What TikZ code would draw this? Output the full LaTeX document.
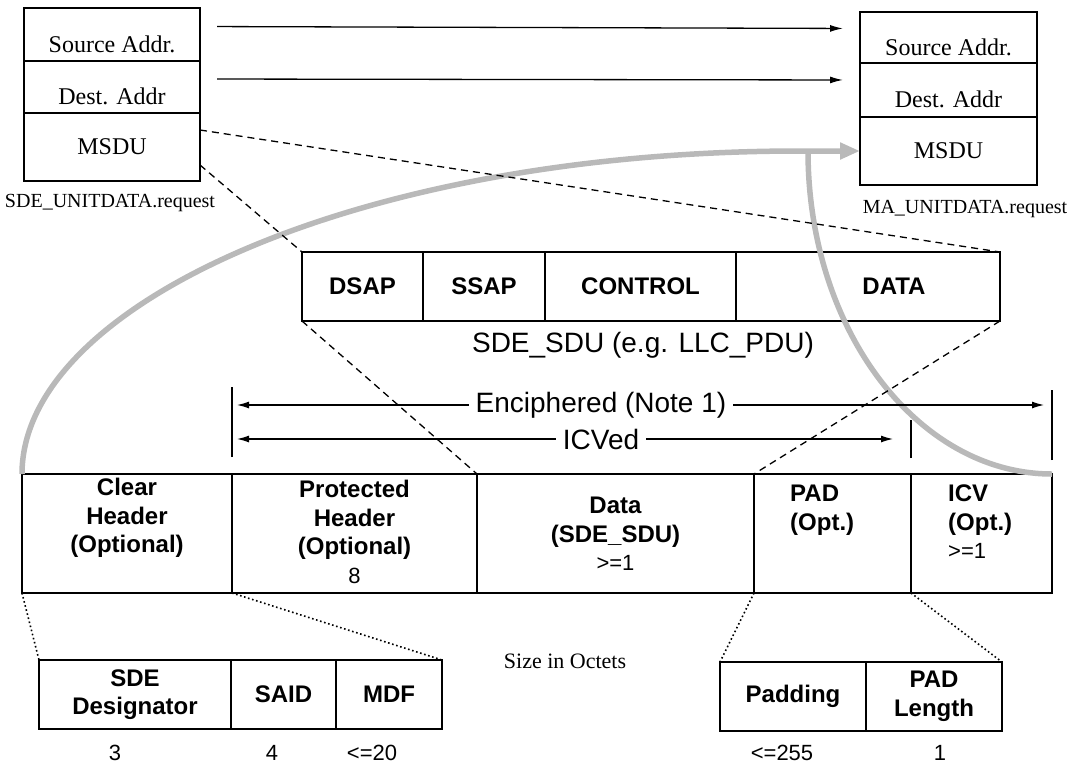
\documentclass[tikz,border=0pt]{standalone}
\usepackage{fontspec}
\setmainfont{Liberation Serif}
\setsansfont{Liberation Sans}
\usetikzlibrary{positioning,arrows.meta}

\tikzset{
  field/.style={draw, line width=1.5pt, inner sep=0pt, outer sep=0pt, align=center,
    font=\sffamily\bfseries\fontsize{24}{28.5}\selectfont},
  addr/.style={draw, line width=1.5pt, inner sep=0pt, outer sep=0pt, minimum width=176pt,
    font=\fontsize{24}{28}\selectfont},
  lowaddr/.style={addr, text height=35pt, text depth=0pt},
  fieldtxt/.style={inner sep=0pt, font=\sffamily\bfseries\fontsize{24}{28.5}\selectfont},
  octets/.style={font=\sffamily\fontsize{22}{26}\selectfont},
  caption/.style={font=\fontsize{20}{24}\selectfont},
  spantxt/.style={font=\sffamily\fontsize{28}{30}\selectfont, inner sep=7pt},
  passarrow/.style={line width=1.3pt, -{Latex[length=13pt,width=7pt]}},
  spanarrow/.style={line width=1.2pt, -{Latex[length=12pt,width=7pt]}},
  spanbar/.style={line width=1.2pt},
  zoomline/.style={line width=1.3pt, dash pattern=on 7pt off 5pt},
  subline/.style={line width=1.6pt, dash pattern=on 1.6pt off 2.6pt},
  bigflow/.style={draw=gray!55, line width=5.5pt},
}
\newcommand{\num}[1]{{\mdseries\fontsize{22}{28.5}\selectfont #1}}

\begin{document}
\begin{tikzpicture}[x=1pt, y=-1pt]
  \useasboundingbox (0,0) rectangle (1073,766);

  % SDE_UNITDATA.request
  \node[lowaddr, minimum height=53pt] (srcL) at (112,34.5) {Source Addr.};
  \node[lowaddr, minimum height=52pt, below=0pt of srcL] (dstL) {Dest. Addr};
  \node[addr, minimum height=68pt, below=0pt of dstL] (msduL) {MSDU};
  \node[caption] (reqL) at (110,203) {SDE\_UNITDATA.request};

  % MA_UNITDATA.request
  \node[lowaddr, minimum width=177pt, minimum height=51pt] (srcR) at (948.5,37.5) {Source Addr.};
  \node[lowaddr, minimum width=177pt, minimum height=54pt, below=0pt of srcR] (dstR) {Dest. Addr};
  \node[addr, minimum width=177pt, minimum height=68pt, below=0pt of dstR] (msduR) {MSDU};
  \node[caption] (reqR) at (965,209) {MA\_UNITDATA.request};

  % SDE_SDU
  \node[field, minimum width=121pt, minimum height=69pt] (dsap) at (362.5,286.5) {DSAP};
  \node[field, minimum width=122pt, minimum height=69pt, right=0pt of dsap] (ssap) {SSAP};
  \node[field, minimum width=191pt, minimum height=69pt, right=0pt of ssap] (control) {CONTROL};
  \node[field, minimum width=264pt, minimum height=69pt, right=0pt of control] (sdudata) {};
  \node[fieldtxt, xshift=26pt] (sdudatatxt) at (sdudata) {DATA};
  \node[spantxt] (sdulbl) at (643,345) {SDE\_SDU (e.g. LLC\_PDU)};

  % protected frame
  \node[field, minimum width=210pt, minimum height=119pt] (clear) at (127,533.5) {};
  \node[field, minimum width=245pt, minimum height=119pt, right=0pt of clear] (prot) {};
  \node[field, minimum width=277pt, minimum height=119pt, right=0pt of prot] (data) {};
  \node[field, minimum width=157pt, minimum height=119pt, right=0pt of data] (pad) {};
  \node[field, minimum width=141pt, minimum height=119pt, right=0pt of pad] (icv) {};

  \node[fieldtxt, align=center, below=4pt of clear.north] (cleartxt) {Clear\\Header\\(Optional)};
  \node[fieldtxt, align=center, below=6pt of prot.north] (prottxt) {Protected\\Header\\(Optional)\\\num{8}};
  \node[fieldtxt, align=center, below=23pt of data.north] (datatxt) {Data\\(SDE\_SDU)\\\num{>=1}};
  \node[fieldtxt, align=left, below right=11pt and 36pt of pad.north west] (padtxt) {PAD\\(Opt.)};
  \node[fieldtxt, align=left, below right=11pt and 37pt of icv.north west] (icvtxt) {ICV\\(Opt.)\\\num{>=1}};

  % sub fields
  \node[field, minimum width=192pt, minimum height=69pt] (sdedes) at (135,694.5) {SDE\\Designator};
  \node[field, minimum width=105pt, minimum height=69pt, right=0pt of sdedes] (said) {SAID};
  \node[field, minimum width=106pt, minimum height=69pt, right=0pt of said] (mdf) {MDF};
  \node[field, minimum width=146pt, minimum height=69pt] (padding) at (793,696.5) {Padding};
  \node[field, minimum width=136pt, minimum height=69pt, right=0pt of padding] (padlen) {PAD\\Length};

  \node[octets] (o3) at (115,753) {3};
  \node[octets] (o4) at (272,753) {4};
  \node[octets] (o20) at (372,753) {<=20};
  \node[octets] (o255) at (782,753) {<=255};
  \node[octets] (o1) at (940,753) {1};
  \node[font=\fontsize{22}{26}\selectfont] (size) at (565,661) {Size in Octets};

  % gray flow
  \coordinate (turn) at ([xshift=-60pt]msduR.west);
  \coordinate (merge) at ([xshift=-52pt]msduR.west);
  \draw[bigflow] (icv.north east) .. controls +(-134,0) and +(0,179) .. (merge);
  \draw[bigflow, -{Triangle[length=20pt,width=16pt]}] (clear.north west)
    .. controls +(0,-170) and +(-440,0) .. (turn) -- (msduR.west);

  % addresses pass through
  \draw[passarrow, shorten <=17pt, shorten >=17pt] ([yshift=8pt]srcL.east) -- ([yshift=9pt]srcR.west);
  \draw[passarrow, shorten <=17pt, shorten >=17pt] ([yshift=8pt]dstL.east) -- ([yshift=10pt]dstR.west);

  \draw[zoomline] ([yshift=-17pt]msduL.north east) -- (sdudata.north east);
  \draw[zoomline] ([yshift=16pt]msduL.south east) -- (dsap.north west);
  \draw[zoomline] (dsap.south west) -- (data.north west);
  \draw[zoomline] (sdudata.south east) -- (pad.north west);

  \draw[subline] (clear.south west) -- (sdedes.north west);
  \draw[subline] (clear.south east) -- (mdf.north east);
  \draw[subline] (pad.south west) -- (padding.north west);
  \draw[subline] (pad.south east) -- (padlen.north east);

  % enciphered / ICVed spans
  \node[spantxt] (enc) at (601,405) {Enciphered (Note 1)};
  \node[spantxt] (icved) at (601,439) {ICVed};
  \draw[spanbar] ([yshift=17pt]prot.north west) -- ([yshift=87pt]prot.north west);
  \draw[spanbar] ([yshift=16pt]icv.north west) -- ([yshift=54pt]icv.north west);
  \draw[spanbar] ([yshift=14pt]icv.north east) -- ([yshift=84pt]icv.north east);
  \draw[spanarrow, shorten >=5pt] (enc.west) -- (enc.west -| prot.west);
  \draw[spanarrow, shorten >=8pt] (enc.east) -- (enc.east -| icv.east);
  \draw[spanarrow, shorten >=5pt] (icved.west) -- (icved.west -| prot.west);
  \draw[spanarrow, shorten >=18pt] (icved.east) -- (icved.east -| icv.west);
\end{tikzpicture}
\end{document}
